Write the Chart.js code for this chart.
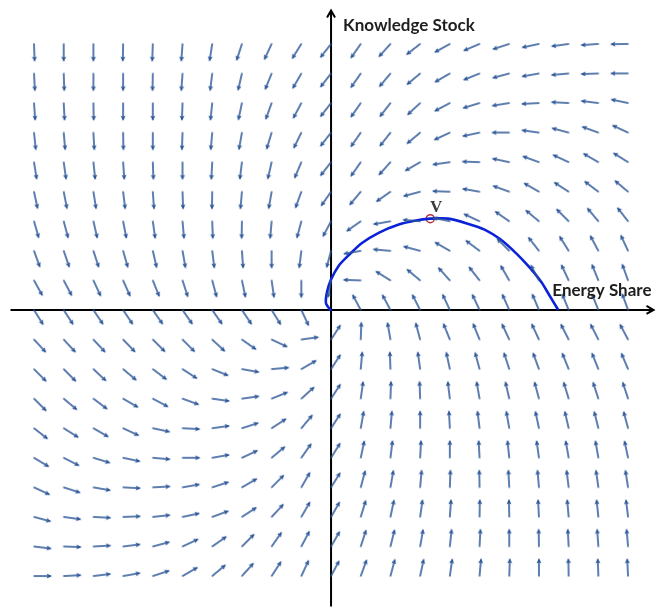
<!DOCTYPE html>
<html>
<head>
<meta charset="utf-8">
<script src="https://cdn.jsdelivr.net/npm/chart.js@4"></script>
<style>
  html, body { margin: 0; padding: 0; background: #ffffff; }
  #wrap { width: 660px; height: 612px; position: relative; }
</style>
</head>
<body>
<div id="wrap"><canvas id="phase"></canvas></div>
<script>
// grid of the direction field (tail of every arrow)
const gridX = [-10, -9, -8, -7, -6, -5, -4, -3, -2, -1, 0, 1, 2, 3, 4, 5, 6, 7, 8, 9, 10];
const gridY = [9, 8, 7, 6, 5, 4, 3, 2, 1, 0, -1, -2, -3, -4, -5, -6, -7, -8, -9];

// arrow direction in degrees (0 = right, 90 = up), one row per gridY, null = no arrow
const arrowAngles = [
  [-88, -90, -90, -91, -92, -94, -99, -108, -115, -122, -128, -125, -132, -142, -151, -157, -162, -168, -172, -176, -179],
  [-87, -88, -90, -90, -91, -94, -97, -103, -112, -120, -128, -125, -130, -140, -150, -158, -165, -170, -175, -178, 180],
  [-86, -87, -89, -90, -90, -92, -96, -102, -110, -118, -128, -125, -128, -137, -152, -163, -171, -177, 177, 173, 168],
  [-84, -85, -87, -89, -90, -92, -95, -100, -107, -116, -128, -125, -128, -140, -155, -168, 180, 172, 165, 160, 155],
  [-81, -82, -84, -86, -88, -90, -93, -97, -103, -113, -128, -125, -132, -150, -172, 178, 168, 160, 155, 150, 148],
  [-78, -79, -81, -83, -86, -88, -91, -95, -100, -110, -125, -130, -145, -165, 178, 170, 160, 150, 147, 143, 140],
  [-74, -75, -77, -79, -82, -85, -88, -91, -95, -105, -118, -145, -170, 175, 168, 155, 145, 140, 135, 130, 128],
  [-70, -71, -72, -74, -77, -80, -83, -86, -90, -97, -105, -170, 175, 165, 150, 143, 135, 128, 122, 118, 115],
  [-61, -62, -65, -66, -68, -72, -75, -78, -82, -90, -100, 178, 148, 140, 132, 128, 120, 118, 115, 112, 110],
  [-58, -57, -56, -56, -55, -55, -55, -56, -58, -65, null, 118, 118, 117, 115, 115, 114, 113, 112, 112, 110],
  [-47, -47, -47, -46, -45, -45, -43, -35, -25, 8, 57, 88, 100, 105, 112, 112, 115, 115, 117, 117, 118],
  [-45, -45, -43, -40, -37, -33, -22, -10, 5, 30, 57, 85, 92, 98, 102, 105, 108, 110, 112, 112, 113],
  [-45, -40, -37, -30, -28, -20, -8, 8, 22, 42, 57, 82, 88, 92, 97, 100, 103, 105, 107, 108, 108],
  [-38, -32, -30, -25, -12, -3, 8, 18, 33, 50, 57, 80, 85, 90, 93, 97, 100, 102, 103, 104, 105],
  [-31, -27, -17, -12, -5, 0, 10, 25, 40, 55, 58, 78, 83, 87, 90, 93, 96, 98, 100, 100, 102],
  [-25, -18, -10, -3, 3, 10, 18, 30, 45, 60, 58, 75, 80, 85, 88, 91, 93, 95, 97, 98, 99],
  [-15, -8, -3, 2, 6, 12, 20, 33, 47, 60, 60, 73, 78, 82, 86, 89, 91, 93, 95, 96, 97],
  [-7, -2, 3, 7, 15, 25, 35, 45, 55, 62, 60, 72, 76, 80, 84, 87, 90, 91, 93, 94, 95],
  [0, 3, 7, 10, 18, 30, 40, 48, 57, 65, 62, 70, 75, 78, 82, 85, 88, 90, 91, 92, 93],
];

// the trajectory through V
const curveX = [0.0, -0.17, -0.13, 0.0, 0.26, 0.6, 1.03, 1.62, 2.28, 2.81, 3.34, 3.94, 4.6, 5.17, 5.7, 6.26, 6.69, 7.09, 7.35, 7.65];
const curveY = [-0.03, 0.23, 0.63, 1.03, 1.5, 1.86, 2.26, 2.62, 2.89, 3.02, 3.09, 3.09, 2.92, 2.72, 2.39, 1.89, 1.43, 0.93, 0.5, 0.0];

const pointV = { x: 3.34, y: 3.09 };

const ARROW_COLOR = "#2a5497";
const CURVE_COLOR = "#0c22d8";


function makeArrowImage(len) {
  const size = 2 * (len + 3);
  const c = size / 2;
  const img = document.createElement("canvas");
  img.width = size;
  img.height = size;
  const g = img.getContext("2d");

  g.strokeStyle = ARROW_COLOR;
  g.fillStyle = ARROW_COLOR;
  g.lineWidth = 1.3;
  g.lineCap = "round";
  g.beginPath();
  g.moveTo(c, c);
  g.lineTo(c + len - 2, c);
  g.stroke();

  g.beginPath();
  g.moveTo(c + len, c);
  g.lineTo(c + len - 5.5, c - 2.6);
  g.lineTo(c + len - 4, c);
  g.lineTo(c + len - 5.5, c + 2.6);
  g.closePath();
  g.fill();

  return img;
}


function buildArrowPoints() {
  const points = [];

  gridY.forEach((y, row) => {
    gridX.forEach((x, col) => {
      const a = arrowAngles[row][col];

      if (a === null) return;

      points.push({ x: x, y: y, a: a });
    });
  });

  return points;
}


const axesPlugin = {
  id: "phaseAxes",
  beforeDatasetsDraw(chart) {
    const { ctx, chartArea, scales } = chart;
    const x0 = scales.x.getPixelForValue(0);
    const y0 = scales.y.getPixelForValue(0);
    const left = chartArea.left + 5;
    const right = chartArea.right - 1;
    const top = chartArea.top + 5;
    const bottom = chartArea.bottom;

    ctx.save();
    ctx.strokeStyle = "#000000";
    ctx.lineWidth = 2;

    ctx.beginPath();
    ctx.moveTo(left, y0);
    ctx.lineTo(right, y0);
    ctx.moveTo(right - 7, y0 - 4);
    ctx.lineTo(right, y0);
    ctx.lineTo(right - 7, y0 + 4);

    ctx.moveTo(x0, bottom);
    ctx.lineTo(x0, top);
    ctx.moveTo(x0 - 4, top + 7);
    ctx.lineTo(x0, top);
    ctx.lineTo(x0 + 4, top + 7);
    ctx.stroke();
    ctx.restore();
  },
  afterDatasetsDraw(chart) {
    const { ctx, chartArea, scales } = chart;
    const x0 = scales.x.getPixelForValue(0);
    const y0 = scales.y.getPixelForValue(0);
    const vx = scales.x.getPixelForValue(pointV.x);
    const vy = scales.y.getPixelForValue(pointV.y);

    ctx.save();
    ctx.fillStyle = "#1e1e1e";
    ctx.textBaseline = "alphabetic";
    ctx.font = "bold 17px Lato";
    ctx.textAlign = "left";
    ctx.fillText("Knowledge Stock", x0 + 12, chartArea.top + 25);
    ctx.textAlign = "right";
    ctx.fillText("Energy Share", chartArea.right - 3, y0 - 14);

    ctx.font = "bold 17px 'Liberation Serif'";
    ctx.fillStyle = "#3a3a3a";
    ctx.textAlign = "center";
    ctx.fillText("V", vx + 6, vy - 7);
    ctx.restore();
  },
};


document.addEventListener("DOMContentLoaded", function () {
  const arrowImage = makeArrowImage(18);
  const arrowPoints = buildArrowPoints();

  const curveData = curveX.map((x, i) => ({ x: x, y: curveY[i] }));

  new Chart(document.getElementById("phase"), {
    type: "scatter",
    data: {
      datasets: [
        {
          label: "field",
          data: arrowPoints,
          pointStyle: arrowImage,
          pointRadius: 1,
          pointRotation: (ctx) => (ctx.raw ? -ctx.raw.a : 0),
          showLine: false,
        },
        {
          label: "trajectory",
          data: curveData,
          showLine: true,
          borderColor: CURVE_COLOR,
          borderWidth: 2.6,
          pointRadius: 0,
          tension: 0.25,
        },
        {
          label: "V",
          data: [pointV],
          pointRadius: 4,
          borderWidth: 1.5,
          borderColor: "#b8323a",
          backgroundColor: "#ffffff",
        },
      ],
    },
    options: {
      responsive: true,
      maintainAspectRatio: false,
      animation: false,
      events: [],
      layout: { padding: 0 },
      plugins: {
        legend: { display: false },
        tooltip: { enabled: false },
      },
      scales: {
        x: { type: "linear", display: false, min: -10.96, max: 10.89 },
        y: { type: "linear", display: false, min: -10.03, max: 10.3 },
      },
    },
    plugins: [axesPlugin],
  });
});
</script>
</body>
</html>
